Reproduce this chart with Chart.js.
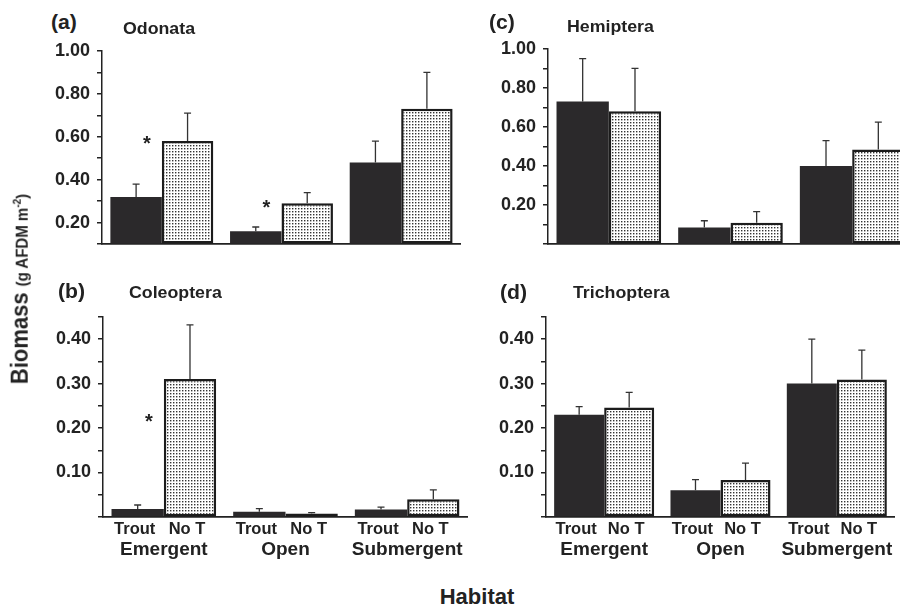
<!DOCTYPE html>
<html>
<head>
<meta charset="utf-8">
<script src="https://cdn.jsdelivr.net/npm/chart.js@4.4.1/dist/chart.umd.min.js"></script>
<style>
  html, body { margin: 0; padding: 0; background: #fff; }
  #wrap { position: relative; width: 900px; height: 609px; overflow: hidden;
          font-family: "Liberation Sans", Arial, sans-serif; font-weight: bold; color: #222; }
  #wrap canvas { position: absolute; }
  .lbl { position: absolute; white-space: nowrap; line-height: 1; transform-origin: left center; }
  .panel { font-size: 20px; transform: scaleX(1.06); }
  .title { font-size: 16px; transform: scaleX(1.11); }
  #ytitle { position: absolute; left: 20px; top: 289px; white-space: nowrap; line-height: 1; font-size: 22px;
            transform: translate(-50%, -50%) rotate(-90deg) scaleY(1.1); }
  #ytitle .unit { font-size: 15px; }
  #ytitle sup { font-size: 10px; }
  #xtitle { position: absolute; left: 477px; top: 586px; font-size: 22px; line-height: 1;
            transform: translateX(-50%); white-space: nowrap; }
</style>
</head>
<body>
<div id="wrap">
  <canvas id="odonata" width="449" height="229" style="left:12px;top:33px"></canvas>
  <canvas id="hemiptera" width="455" height="231" style="left:458px;top:31px"></canvas>
  <canvas id="coleoptera" width="455" height="263" style="left:13px;top:299px"></canvas>
  <canvas id="trichoptera" width="439" height="263" style="left:456px;top:299px"></canvas>

  <div class="lbl panel" style="left:51px;top:12px">(a)</div>
  <div class="lbl title" style="left:123px;top:21px">Odonata</div>
  <div class="lbl panel" style="left:489px;top:12px">(c)</div>
  <div class="lbl title" style="left:567px;top:19px">Hemiptera</div>
  <div class="lbl panel" style="left:58px;top:281px">(b)</div>
  <div class="lbl title" style="left:129px;top:285px">Coleoptera</div>
  <div class="lbl panel" style="left:500px;top:282px">(d)</div>
  <div class="lbl title" style="left:573px;top:285px">Trichoptera</div>

  <div id="ytitle">Biomass <span class="unit">(g AFDM m<sup>-2</sup>)</span></div>
  <div id="xtitle">Habitat</div>
</div>

<script>
// habitats on the x axis, two bars per habitat
const habitats = ["Emergent", "Open", "Submergent"];
const barNames = ["Trout", "No T"];

// mean biomass (g AFDM m-2) and the standard error drawn above each bar
const odonataTrout = [0.32, 0.16, 0.48];
const odonataTroutSE = [0.06, 0.02, 0.10];
const odonataNoT = [0.58, 0.29, 0.73];
const odonataNoTSE = [0.13, 0.05, 0.17];

const hemipteraTrout = [0.73, 0.085, 0.40];
const hemipteraTroutSE = [0.22, 0.035, 0.13];
const hemipteraNoT = [0.68, 0.11, 0.485];
const hemipteraNoTSE = [0.22, 0.057, 0.14];

const coleopteraTrout = [0.018, 0.012, 0.017];
const coleopteraTroutSE = [0.009, 0.007, 0.005];
const coleopteraNoT = [0.31, 0.008, 0.04];
const coleopteraNoTSE = [0.122, 0.002, 0.021];

const trichopteraTrout = [0.23, 0.06, 0.30];
const trichopteraTroutSE = [0.018, 0.024, 0.10];
const trichopteraNoT = [0.246, 0.083, 0.309];
const trichopteraNoTSE = [0.034, 0.038, 0.066];

// significance stars (value where the * sits, null = none)
const odonataStars = [0.59, 0.29, null];
const coleopteraStars = [0.225, null, null];

const DARK = "#2b292b";
const INK = "#222";
const FONT = "Liberation Sans";

// stippled fill for the "No T" bars
function makeStipple() {
  const c = document.createElement("canvas");
  c.width = 3; c.height = 3;
  const g = c.getContext("2d");
  g.fillStyle = "#fff";
  g.fillRect(0, 0, 3, 3);
  g.fillStyle = "#333";
  g.fillRect(1, 1, 1.4, 1.4);
  return g.createPattern(c, "repeat");
}
const stipple = makeStipple();

function makePanel(id, cfg) {
  const ses = [cfg.troutSE, cfg.noTSE];

  const errorBars = {
    id: "errorBars",
    afterDatasetsDraw(chart) {
      const ctx = chart.ctx;
      const y = chart.scales.y;
      ctx.save();
      ctx.strokeStyle = "#333";
      ctx.lineWidth = 1.3;
      chart.data.datasets.forEach((ds, i) => {
        chart.getDatasetMeta(i).data.forEach((bar, j) => {
          const top = y.getPixelForValue(ds.data[j] + ses[i][j]);
          ctx.beginPath();
          ctx.moveTo(bar.x, bar.y);
          ctx.lineTo(bar.x, top);
          ctx.moveTo(bar.x - 3.5, top);
          ctx.lineTo(bar.x + 3.5, top);
          ctx.stroke();
        });
      });
      ctx.restore();
    }
  };

  const extras = {
    id: "extras",
    afterDraw(chart) {
      const ctx = chart.ctx;
      const area = chart.chartArea;
      const y = chart.scales.y;
      ctx.save();
      ctx.fillStyle = INK;
      ctx.textAlign = "center";
      ctx.textBaseline = "alphabetic";
      if (cfg.showX) {
        ctx.font = "bold 16.5px '" + FONT + "'";
        chart.data.datasets.forEach((ds, i) => {
          chart.getDatasetMeta(i).data.forEach((bar) => {
            ctx.fillText(barNames[i], bar.x - 3, area.bottom + 16.5);
          });
        });
      }
      if (cfg.stars) {
        ctx.font = "bold 20px '" + FONT + "'";
        const noT = chart.getDatasetMeta(1).data;
        cfg.stars.forEach((v, j) => {
          if (v === null) return;
          const bar = noT[j];
          ctx.fillText("*", bar.x - bar.width / 2 - 15, y.getPixelForValue(v) + 11);
        });
      }
      ctx.restore();
    }
  };

  return new Chart(document.getElementById(id), {
    type: "bar",
    data: {
      labels: habitats,
      datasets: [
        { label: barNames[0], data: cfg.trout, backgroundColor: DARK, borderWidth: 0, base: cfg.min },
        { label: barNames[1], data: cfg.noT, backgroundColor: stipple, borderColor: "#1c1c1c",
          borderWidth: 2.5, borderSkipped: false, base: cfg.min }
      ]
    },
    options: {
      responsive: false,
      animation: false,
      layout: { padding: { top: 14, bottom: cfg.showX ? 0 : 10, left: 0, right: 0 } },
      plugins: { legend: { display: false }, tooltip: { enabled: false } },
      datasets: { bar: { categoryPercentage: 0.86, barPercentage: 1 } },
      scales: {
        x: {
          grid: { display: false, drawTicks: false },
          border: { display: true, color: INK, width: 1.8 },
          ticks: { display: cfg.showX, padding: 21, color: INK, autoSkip: false, maxRotation: 0, minRotation: 0,
                   font: { family: FONT, weight: "bold", size: 19 } },
          afterFit(s) {
            s.height = cfg.showX ? 45 : 0;
            s.paddingLeft = 0;
            s.paddingRight = 0;
          }
        },
        y: {
          min: cfg.min,
          max: cfg.max,
          ticks: {
            stepSize: cfg.step,
            autoSkip: false,
            padding: 7,
            color: INK,
            font: { family: FONT, weight: "bold", size: 18 },
            callback(v) {
              const k = Math.round(v * 100);
              return (k > 0 && k % cfg.labelEvery === 0) ? (k / 100).toFixed(2) : "";
            }
          },
          grid: { drawOnChartArea: false, drawTicks: true, tickLength: 5, color: INK, lineWidth: 1.5 },
          border: { display: true, color: INK, width: 1.5 },
          afterFit(s) { s.width = 90; }
        }
      }
    },
    plugins: [errorBars, extras]
  });
}

makePanel("odonata", {
  trout: odonataTrout, troutSE: odonataTroutSE, noT: odonataNoT, noTSE: odonataNoTSE,
  min: 0.1, max: 1.0, step: 0.1, labelEvery: 20, showX: false, stars: odonataStars
});
makePanel("hemiptera", {
  trout: hemipteraTrout, troutSE: hemipteraTroutSE, noT: hemipteraNoT, noTSE: hemipteraNoTSE,
  min: 0, max: 1.0, step: 0.1, labelEvery: 20, showX: false, stars: null
});
makePanel("coleoptera", {
  trout: coleopteraTrout, troutSE: coleopteraTroutSE, noT: coleopteraNoT, noTSE: coleopteraNoTSE,
  min: 0, max: 0.45, step: 0.05, labelEvery: 10, showX: true, stars: coleopteraStars
});
makePanel("trichoptera", {
  trout: trichopteraTrout, troutSE: trichopteraTroutSE, noT: trichopteraNoT, noTSE: trichopteraNoTSE,
  min: 0, max: 0.45, step: 0.05, labelEvery: 10, showX: true, stars: null
});
</script>
</body>
</html>
